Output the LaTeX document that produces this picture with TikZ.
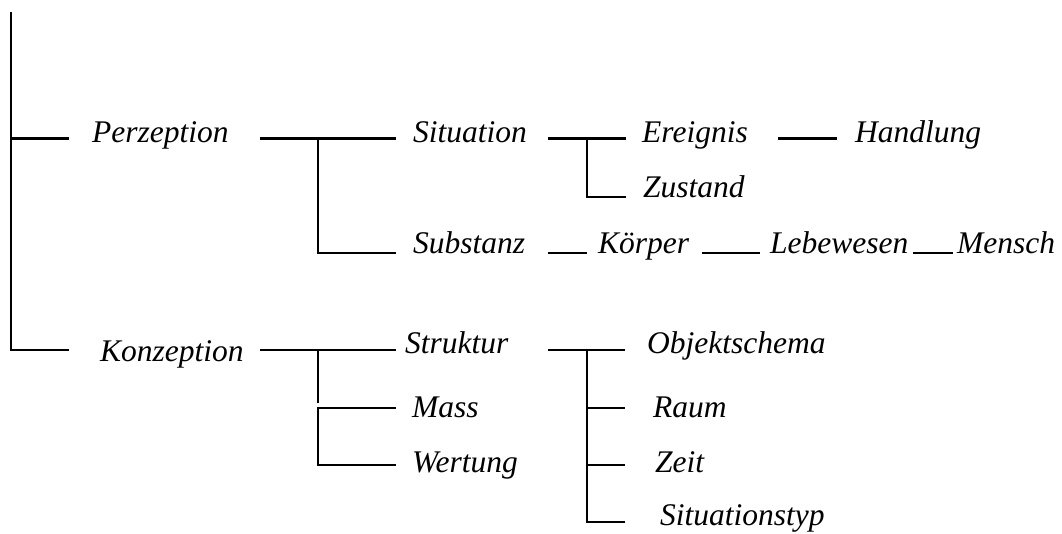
\documentclass[tikz,border=0pt]{standalone}
\usepackage{fontspec}
\setmainfont{Liberation Serif}
\begin{document}
\begin{tikzpicture}[x=1pt,y=-1pt,
  tree/.style={line width=2.2pt},
  lbl/.style={anchor=base west, inner sep=0pt,
    font=\fontsize{31.5}{37}\selectfont\itshape}]
\useasboundingbox (0,0) rectangle (1062,533);

% ---- labels ----
\node[lbl] (perz)  at (92,142)  {Perzeption};
\node[lbl] (sit)   at (413,142) {Situation};
\node[lbl] (ereig) at (642,142) {Ereignis};
\node[lbl] (handl) at (855,142) {Handlung};
\node[lbl] (zust)  at (643,197) {Zustand};
\node[lbl] (subst) at (413,253) {Substanz};
\node[lbl] (koerp) at (598,253) {Körper};
\node[lbl] (lebew) at (770,253) {Lebewesen};
\node[lbl] (mensch) at (957,253) {Mensch};
\node[lbl] (konz)  at (100,361) {Konzeption};
\node[lbl] (strukt) at (405,353) {Struktur};
\node[lbl] (mass)  at (412,417) {Mass};
\node[lbl] (wert)  at (412,472) {Wertung};
\node[lbl] (objs)  at (647,353) {Objektschema};
\node[lbl] (raum)  at (653,417) {Raum};
\node[lbl] (zeit)  at (655,472) {Zeit};
\node[lbl] (sityp) at (660,525) {Situationstyp};

% ---- line end points ----
\coordinate (rTop)  at (11,12);
\coordinate (rP)    at (11,138.5);
\coordinate (rK)    at (11,350);
\coordinate (rPe)   at (69,138.5);
\coordinate (rKe)   at (69,350);

\coordinate (pA)    at (260,138.5);
\coordinate (pJ)    at (318,138.5);
\coordinate (pSit)  at (396,138.5);
\coordinate (pSub)  at (396,253);

\coordinate (sA)    at (548,138.5);
\coordinate (sJ)    at (587,138.5);
\coordinate (sEr)   at (626,138.5);
\coordinate (sZu)   at (626,197);

\coordinate (eA)    at (778,138.5);
\coordinate (eH)    at (837,138.5);

\coordinate (kA)    at (548,253);
\coordinate (kB)    at (587,253);
\coordinate (lA)    at (702,253);
\coordinate (lB)    at (760,253);
\coordinate (mA)    at (913,253);
\coordinate (mB)    at (953,253);

\coordinate (cA)    at (260,350);
\coordinate (cJ)    at (318,350);
\coordinate (cStr)  at (396,350);
\coordinate (cEnd)  at (318,403);
\coordinate (cMa)   at (396,408);
\coordinate (cMj)   at (318,408);
\coordinate (cWe)   at (396,465);

\coordinate (tA)    at (548,350);
\coordinate (tJ)    at (587,350);
\coordinate (tObj)  at (625,350);
\coordinate (tRaJ)  at (587,408);
\coordinate (tRa)   at (625,408);
\coordinate (tZeJ)  at (587,465);
\coordinate (tZe)   at (625,465);
\coordinate (tSi)   at (625,522);

% ---- root ----
\draw[tree] (rTop) |- (rKe);
\draw[tree] (rP) -- (rPe);

% ---- Perzeption ----
\draw[tree] (pA) -- (pSit);
\draw[tree] (pJ) |- (pSub);

\draw[tree] (sA) -- (sEr);
\draw[tree] (sJ) |- (sZu);
\draw[tree] (eA) -- (eH);

\draw[tree] (kA) -- (kB);
\draw[tree] (lA) -- (lB);
\draw[tree] (mA) -- (mB);

% ---- Konzeption ----
\draw[tree] (cA) -- (cStr);
\draw[tree] (cJ) -- (cEnd);
\draw[tree] (cMa) -- (cMj) |- (cWe);

\draw[tree] (tA) -- (tObj);
\draw[tree] (tJ) |- (tSi);
\draw[tree] (tRaJ) -- (tRa);
\draw[tree] (tZeJ) -- (tZe);
\end{tikzpicture}
\end{document}
